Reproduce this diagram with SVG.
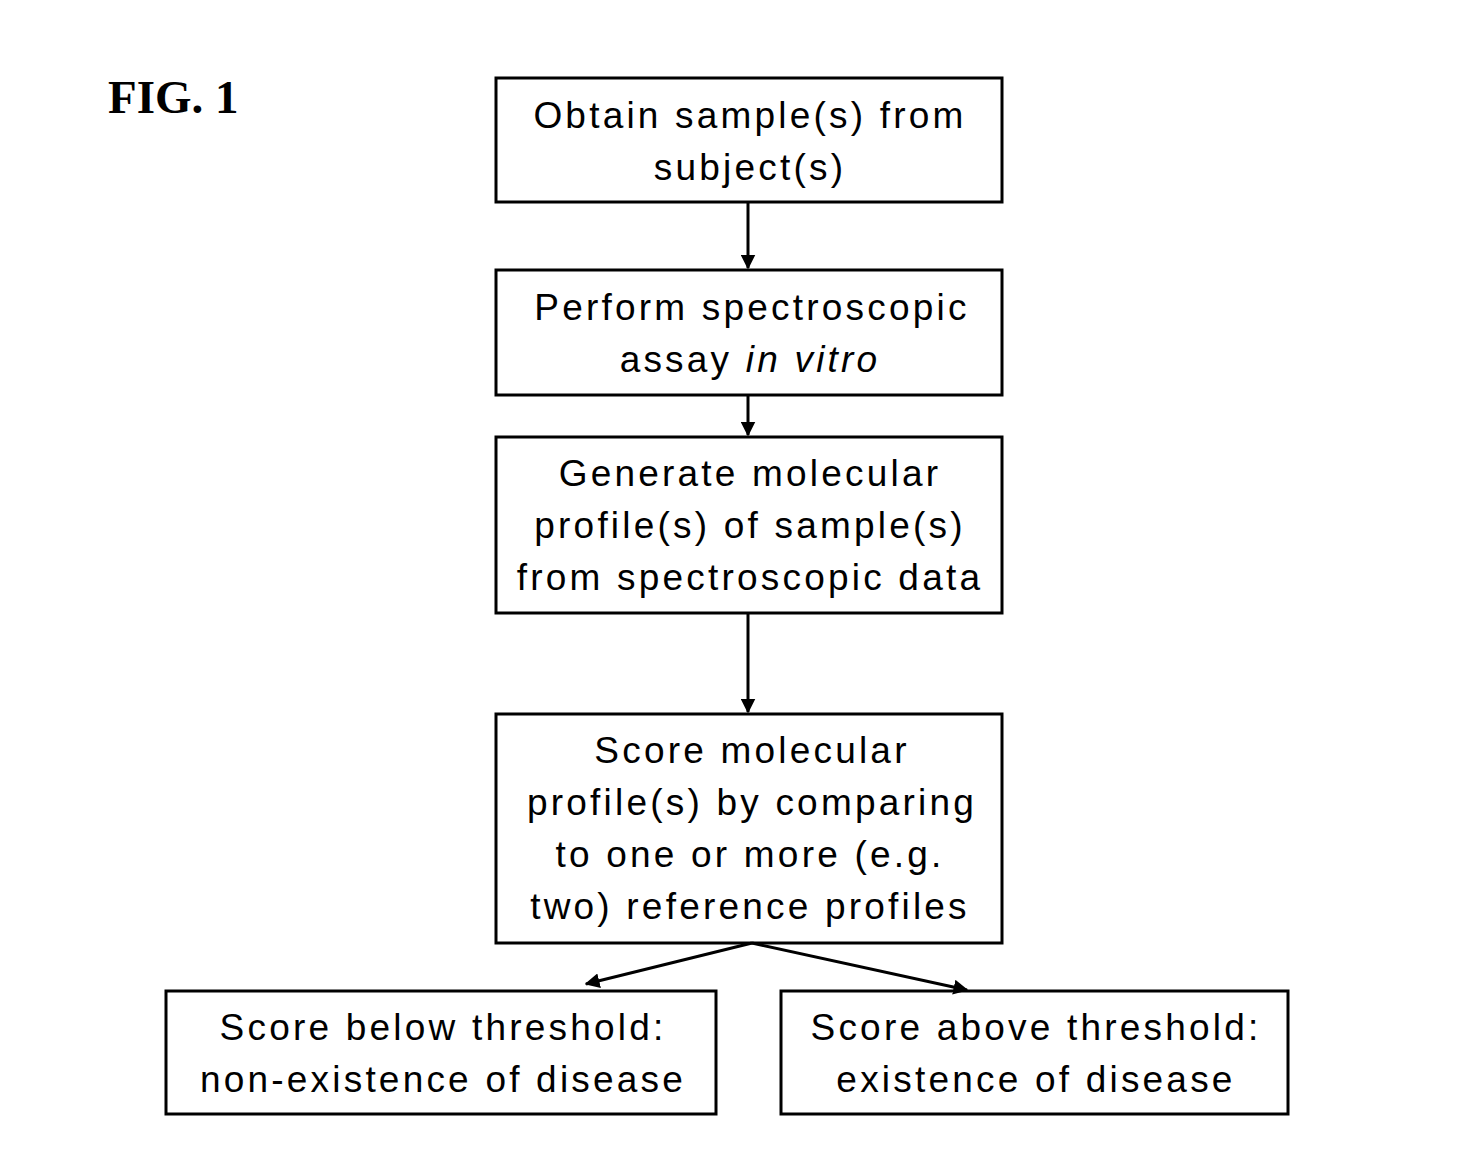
<svg xmlns="http://www.w3.org/2000/svg" width="1484" height="1171" viewBox="0 0 1484 1171">
<defs>
<style>
.box{fill:#fff;stroke:#000;stroke-width:3}
.t{font-family:"Liberation Sans",Arial,sans-serif;font-size:37px;letter-spacing:3.2px;text-anchor:middle;fill:#000}
.c{stroke:#000;stroke-width:3;fill:none}
</style>
<marker id="ah" viewBox="0 0 10 10" refX="9" refY="5" markerWidth="5" markerHeight="5" orient="auto" markerUnits="strokeWidth">
<path d="M0,0 L10,5 L0,10 z" fill="#000"/>
</marker>
</defs>
<rect width="1484" height="1171" fill="#fff"/>
<text x="108" y="113" font-family="Liberation Serif,'Times New Roman',serif" font-size="47" font-weight="bold">FIG. 1</text>
<g id="n1"><rect class="box" x="496" y="78" width="506" height="124"/>
<text class="t" x="750" y="128">Obtain sample(s) from</text>
<text class="t" x="750" y="180">subject(s)</text></g>
<g id="n2"><rect class="box" x="496" y="270" width="506" height="125"/>
<text class="t" x="752" y="320">Perform spectroscopic</text>
<text class="t" x="750" y="372">assay <tspan font-style="italic">in vitro</tspan></text></g>
<g id="n3"><rect class="box" x="496" y="437" width="506" height="176"/>
<text class="t" x="750" y="486">Generate molecular</text>
<text class="t" x="750" y="538">profile(s) of sample(s)</text>
<text class="t" x="750" y="590">from spectroscopic data</text></g>
<g id="n4"><rect class="box" x="496" y="714" width="506" height="229"/>
<text class="t" x="752" y="763">Score molecular</text>
<text class="t" x="752" y="815">profile(s) by comparing</text>
<text class="t" x="750" y="867">to one or more (e.g.</text>
<text class="t" x="750" y="919">two) reference profiles</text></g>
<g id="n5"><rect class="box" x="166" y="991" width="550" height="123"/>
<text class="t" x="443" y="1040">Score below threshold:</text>
<text class="t" x="443" y="1092">non-existence of disease</text></g>
<g id="n6"><rect class="box" x="781" y="991" width="507" height="123"/>
<text class="t" x="1036" y="1040">Score above threshold:</text>
<text class="t" x="1036" y="1092">existence of disease</text></g>
<g id="connectors">
<line class="c" x1="748" y1="202" x2="748" y2="268" marker-end="url(#ah)"/>
<line class="c" x1="748" y1="395" x2="748" y2="435" marker-end="url(#ah)"/>
<line class="c" x1="748" y1="613" x2="748" y2="712" marker-end="url(#ah)"/>
<line class="c" x1="752" y1="943" x2="586" y2="984" marker-end="url(#ah)"/>
<line class="c" x1="752" y1="943" x2="967" y2="990" marker-end="url(#ah)"/>
</g>
</svg>
